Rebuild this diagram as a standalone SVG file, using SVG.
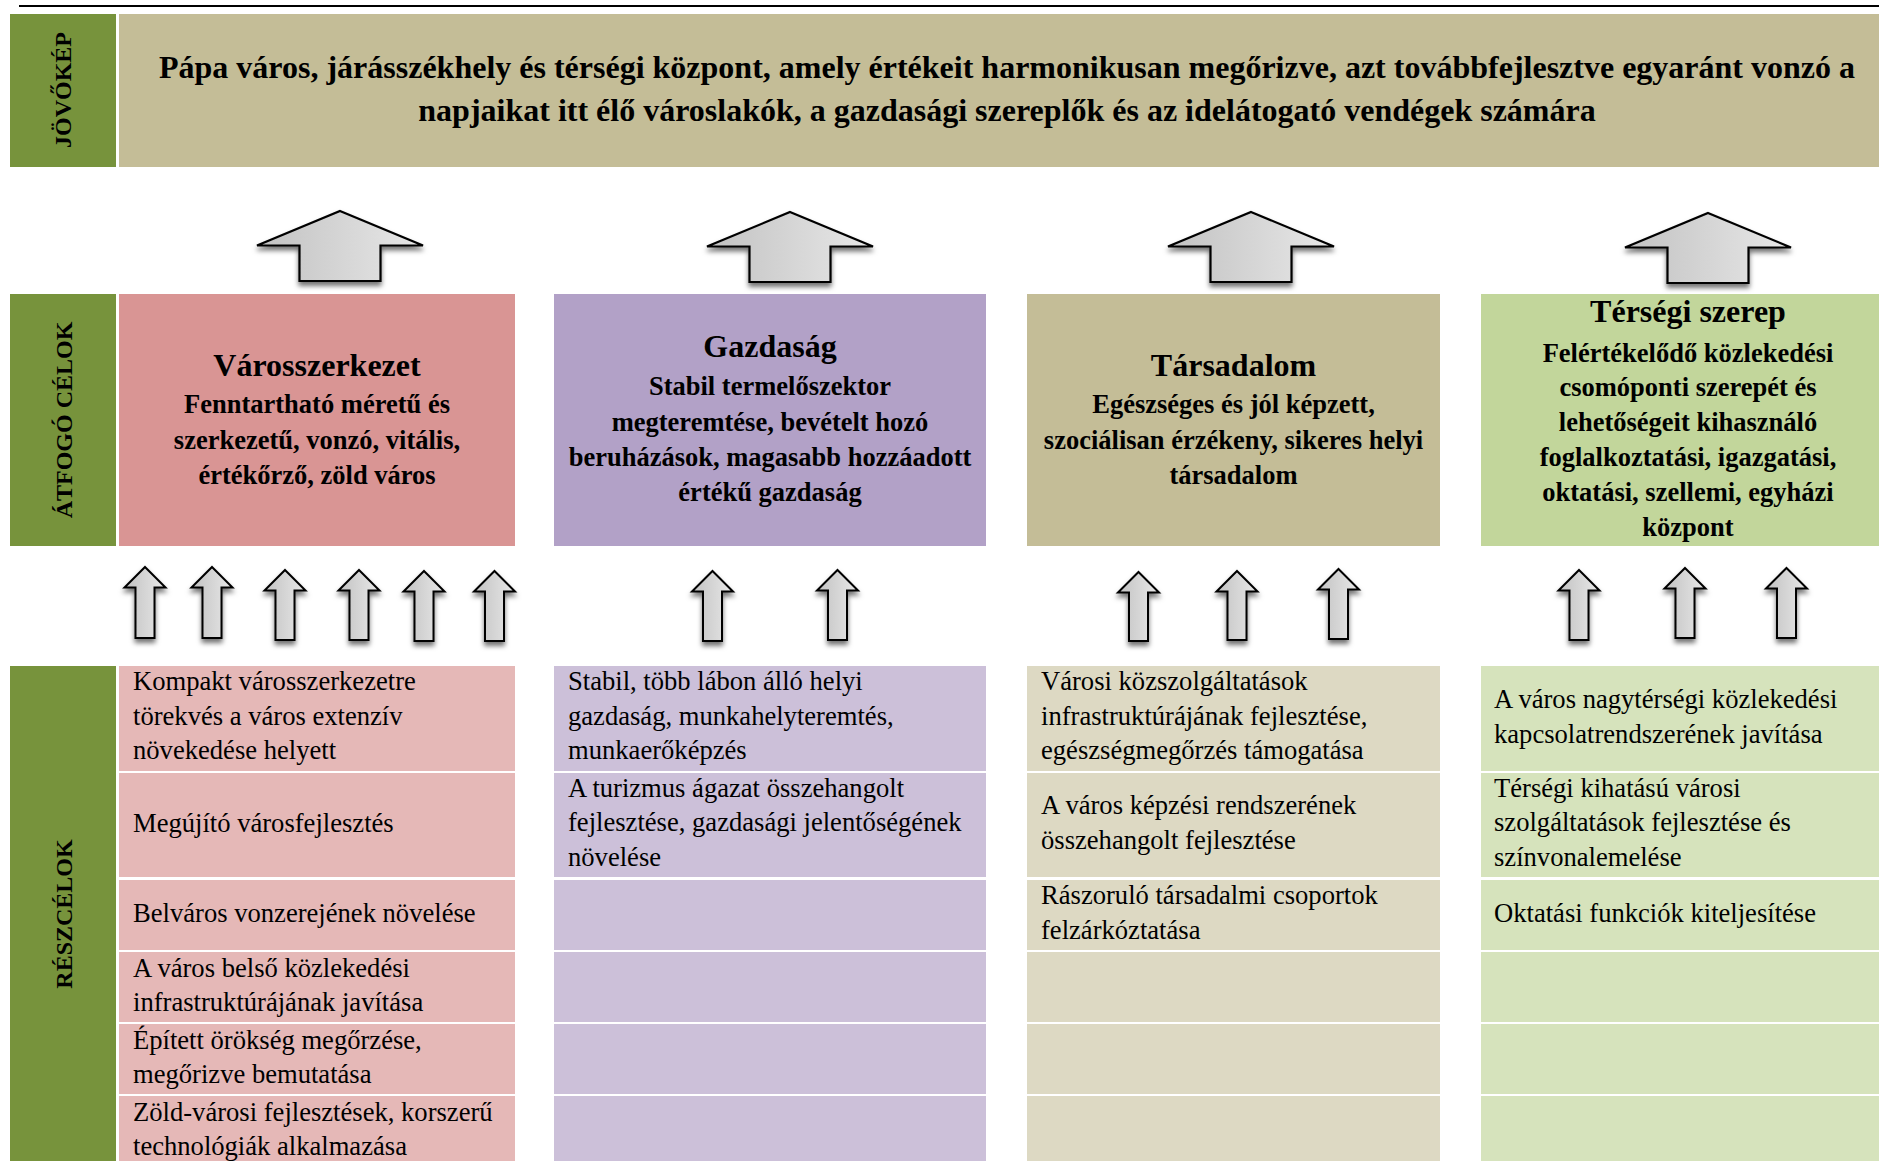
<svg xmlns="http://www.w3.org/2000/svg" width="1879" height="1161" viewBox="0 0 1879 1161">
<style>
text{font-family:"Liberation Serif","Times New Roman",serif;fill:#000}
.lbl{font-size:24px;font-weight:bold;text-anchor:middle}
.vis{font-size:32px;font-weight:bold;text-anchor:middle}
.ttl{font-size:32px;font-weight:bold;text-anchor:middle}
.sub{font-size:26.5px;font-weight:bold;text-anchor:middle}
.det{font-size:26.6px}
.arrow{fill:url(#ag);stroke:#000;stroke-width:2.2;stroke-linejoin:miter;filter:url(#sh)}
.arrow-s{fill:url(#ag);stroke:#000;stroke-width:2;stroke-linejoin:miter;filter:url(#sh)}
</style>
<defs>
<linearGradient id="ag" x1="0" y1="0" x2="1" y2="0">
<stop offset="0" stop-color="#c2c2c2"/>
<stop offset="1" stop-color="#e8e8e8"/>
</linearGradient>
<filter id="sh" x="-30%" y="-30%" width="160%" height="170%">
<feDropShadow dx="0" dy="4" stdDeviation="2.5" flood-color="#000" flood-opacity="0.55"/>
</filter>
</defs>
<rect width="1879" height="1161" fill="#fff"/>
<line x1="19" y1="6" x2="1879" y2="6" stroke="#000" stroke-width="2.2"/>

<g id="label-jovokep">
<rect x="10" y="14" width="106" height="153" fill="#77933C"/>
<text class="lbl" transform="translate(71,90) rotate(-90)">JÖVŐKÉP</text>
</g>
<g id="vision">
<rect x="119" y="14" width="1760" height="153" fill="#C4BD97"/>
<text class="vis" x="1007" y="78">Pápa város, járásszékhely és térségi központ, amely értékeit harmonikusan megőrizve, azt továbbfejlesztve egyaránt vonzó a</text>
<text class="vis" x="1007" y="121">napjaikat itt élő városlakók, a gazdasági szereplők és az idelátogató vendégek számára</text>
</g>

<g id="label-atfogo">
<rect x="10" y="294" width="106" height="252" fill="#77933C"/>
<text class="lbl" transform="translate(72,420) rotate(-90)">ÁTFOGÓ CÉLOK</text>
</g>
<g id="goal-varosszerkezet">
<rect x="119" y="294" width="396" height="252" fill="#D99594"/>
<text class="ttl" x="317" y="376">Városszerkezet</text>
<text class="sub" x="317" y="413">Fenntartható méretű és</text>
<text class="sub" x="317" y="448.5">szerkezetű, vonzó, vitális,</text>
<text class="sub" x="317" y="484">értékőrző, zöld város</text>
</g>
<g id="goal-gazdasag">
<rect x="554" y="294" width="432" height="252" fill="#B2A1C7"/>
<text class="ttl" x="770" y="357">Gazdaság</text>
<text class="sub" x="770" y="395">Stabil termelőszektor</text>
<text class="sub" x="770" y="430.5">megteremtése, bevételt hozó</text>
<text class="sub" x="770" y="466">beruházások, magasabb hozzáadott</text>
<text class="sub" x="770" y="501">értékű gazdaság</text>
</g>
<g id="goal-tarsadalom">
<rect x="1027" y="294" width="413" height="252" fill="#C4BD97"/>
<text class="ttl" x="1233.5" y="376">Társadalom</text>
<text class="sub" x="1233.5" y="413">Egészséges és jól képzett,</text>
<text class="sub" x="1233.5" y="448.5">szociálisan érzékeny, sikeres helyi</text>
<text class="sub" x="1233.5" y="484">társadalom</text>
</g>
<g id="goal-tersegi">
<rect x="1481" y="294" width="398" height="252" fill="#C2D69B"/>
<text class="ttl" x="1688" y="322">Térségi szerep</text>
<text class="sub" x="1688" y="361.5">Felértékelődő közlekedési</text>
<text class="sub" x="1688" y="396">csomóponti szerepét és</text>
<text class="sub" x="1688" y="431">lehetőségeit kihasználó</text>
<text class="sub" x="1688" y="466">foglalkoztatási, igazgatási,</text>
<text class="sub" x="1688" y="501">oktatási, szellemi, egyházi</text>
<text class="sub" x="1688" y="535.5">központ</text>
</g>

<g id="label-reszcelok">
<rect x="10" y="666" width="106" height="495" fill="#77933C"/>
<text class="lbl" transform="translate(72,914) rotate(-90)">RÉSZCÉLOK</text>
</g>

<g id="sub-varosszerkezet">
<rect x="119" y="666" width="396" height="105" fill="#E5B8B7"/>
<rect x="119" y="773" width="396" height="104" fill="#E5B8B7"/>
<rect x="119" y="880" width="396" height="70" fill="#E5B8B7"/>
<rect x="119" y="952" width="396" height="70" fill="#E5B8B7"/>
<rect x="119" y="1024" width="396" height="70" fill="#E5B8B7"/>
<rect x="119" y="1096" width="396" height="70" fill="#E5B8B7"/>
<text class="det" x="133" y="690">Kompakt városszerkezetre</text>
<text class="det" x="133" y="724.5">törekvés a város extenzív</text>
<text class="det" x="133" y="759">növekedése helyett</text>
<text class="det" x="133" y="832">Megújító városfejlesztés</text>
<text class="det" x="133" y="922">Belváros vonzerejének növelése</text>
<text class="det" x="133" y="976.5">A város belső közlekedési</text>
<text class="det" x="133" y="1011">infrastruktúrájának javítása</text>
<text class="det" x="133" y="1048.5">Épített örökség megőrzése,</text>
<text class="det" x="133" y="1083">megőrizve bemutatása</text>
<text class="det" x="133" y="1120.5">Zöld-városi fejlesztések, korszerű</text>
<text class="det" x="133" y="1155">technológiák alkalmazása</text>
</g>
<g id="sub-gazdasag">
<rect x="554" y="666" width="432" height="105" fill="#CCC0D9"/>
<rect x="554" y="773" width="432" height="104" fill="#CCC0D9"/>
<rect x="554" y="880" width="432" height="70" fill="#CCC0D9"/>
<rect x="554" y="952" width="432" height="70" fill="#CCC0D9"/>
<rect x="554" y="1024" width="432" height="70" fill="#CCC0D9"/>
<rect x="554" y="1096" width="432" height="70" fill="#CCC0D9"/>
<text class="det" x="568" y="690">Stabil, több lábon álló helyi</text>
<text class="det" x="568" y="724.5">gazdaság, munkahelyteremtés,</text>
<text class="det" x="568" y="759">munkaerőképzés</text>
<text class="det" x="568" y="797">A turizmus ágazat összehangolt</text>
<text class="det" x="568" y="831">fejlesztése, gazdasági jelentőségének</text>
<text class="det" x="568" y="865.5">növelése</text>
</g>
<g id="sub-tarsadalom">
<rect x="1027" y="666" width="413" height="105" fill="#DDD9C3"/>
<rect x="1027" y="773" width="413" height="104" fill="#DDD9C3"/>
<rect x="1027" y="880" width="413" height="70" fill="#DDD9C3"/>
<rect x="1027" y="952" width="413" height="70" fill="#DDD9C3"/>
<rect x="1027" y="1024" width="413" height="70" fill="#DDD9C3"/>
<rect x="1027" y="1096" width="413" height="70" fill="#DDD9C3"/>
<text class="det" x="1041" y="690">Városi közszolgáltatások</text>
<text class="det" x="1041" y="724.5">infrastruktúrájának fejlesztése,</text>
<text class="det" x="1041" y="759">egészségmegőrzés támogatása</text>
<text class="det" x="1041" y="814">A város képzési rendszerének</text>
<text class="det" x="1041" y="848.5">összehangolt fejlesztése</text>
<text class="det" x="1041" y="904">Rászoruló társadalmi csoportok</text>
<text class="det" x="1041" y="938.5">felzárkóztatása</text>
</g>
<g id="sub-tersegi">
<rect x="1481" y="666" width="398" height="105" fill="#D6E3BC"/>
<rect x="1481" y="773" width="398" height="104" fill="#D6E3BC"/>
<rect x="1481" y="880" width="398" height="70" fill="#D6E3BC"/>
<rect x="1481" y="952" width="398" height="70" fill="#D6E3BC"/>
<rect x="1481" y="1024" width="398" height="70" fill="#D6E3BC"/>
<rect x="1481" y="1096" width="398" height="70" fill="#D6E3BC"/>
<text class="det" x="1494" y="708">A város nagytérségi közlekedési</text>
<text class="det" x="1494" y="742.5">kapcsolatrendszerének javítása</text>
<text class="det" x="1494" y="797">Térségi kihatású városi</text>
<text class="det" x="1494" y="831">szolgáltatások fejlesztése és</text>
<text class="det" x="1494" y="865.5">színvonalemelése</text>
<text class="det" x="1494" y="922">Oktatási funkciók kiteljesítése</text>
</g>

<g id="connectors">
<path class="arrow" d="M340 211 L423 245.5 L380.5 245.5 L380.5 281 L299.5 281 L299.5 245.5 L257 245.5 Z"/>
<path class="arrow" d="M790 212 L873 246.5 L830.5 246.5 L830.5 282 L749.5 282 L749.5 246.5 L707 246.5 Z"/>
<path class="arrow" d="M1251 212 L1334 246.5 L1291.5 246.5 L1291.5 282 L1210.5 282 L1210.5 246.5 L1168 246.5 Z"/>
<path class="arrow" d="M1708 213 L1791 247.5 L1748.5 247.5 L1748.5 283 L1667.5 283 L1667.5 247.5 L1625 247.5 Z"/>

<path class="arrow-s" d="M145 567 L165.5 587.5 L154.5 587.5 L154.5 638 L135.5 638 L135.5 587.5 L124.5 587.5 Z"/>
<path class="arrow-s" d="M212 567 L232.5 587.5 L221.5 587.5 L221.5 638 L202.5 638 L202.5 587.5 L191.5 587.5 Z"/>
<path class="arrow-s" d="M285 570 L305.5 590.5 L294.5 590.5 L294.5 640 L275.5 640 L275.5 590.5 L264.5 590.5 Z"/>
<path class="arrow-s" d="M359 570 L379.5 590.5 L368.5 590.5 L368.5 640 L349.5 640 L349.5 590.5 L338.5 590.5 Z"/>
<path class="arrow-s" d="M424 571 L444.5 591.5 L433.5 591.5 L433.5 641 L414.5 641 L414.5 591.5 L403.5 591.5 Z"/>
<path class="arrow-s" d="M494.5 571 L515 591.5 L504 591.5 L504 641 L485 641 L485 591.5 L474 591.5 Z"/>

<path class="arrow-s" d="M712.5 571 L733 591.5 L722 591.5 L722 641 L703 641 L703 591.5 L692 591.5 Z"/>
<path class="arrow-s" d="M837.5 570 L858 590.5 L847 590.5 L847 640 L828 640 L828 590.5 L817 590.5 Z"/>

<path class="arrow-s" d="M1138.5 572 L1159 592.5 L1148 592.5 L1148 641 L1129 641 L1129 592.5 L1118 592.5 Z"/>
<path class="arrow-s" d="M1237 571 L1257.5 591.5 L1246.5 591.5 L1246.5 640 L1227.5 640 L1227.5 591.5 L1216.5 591.5 Z"/>
<path class="arrow-s" d="M1338.5 569 L1359 589.5 L1348 589.5 L1348 639 L1329 639 L1329 589.5 L1318 589.5 Z"/>

<path class="arrow-s" d="M1579 570 L1599.5 590.5 L1588.5 590.5 L1588.5 640 L1569.5 640 L1569.5 590.5 L1558.5 590.5 Z"/>
<path class="arrow-s" d="M1685 568 L1705.5 588.5 L1694.5 588.5 L1694.5 638 L1675.5 638 L1675.5 588.5 L1664.5 588.5 Z"/>
<path class="arrow-s" d="M1786.5 568 L1807 588.5 L1796 588.5 L1796 638 L1777 638 L1777 588.5 L1766 588.5 Z"/>
</g>
</svg>
